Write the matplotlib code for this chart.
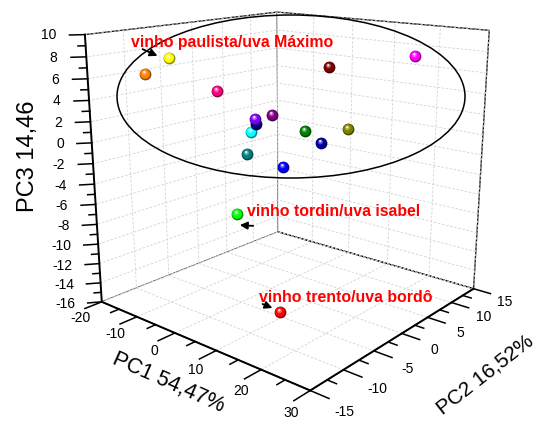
import numpy as np
import matplotlib
matplotlib.use('Agg')
import matplotlib.pyplot as plt
from matplotlib.path import Path
from matplotlib.patches import Ellipse, FancyArrowPatch
from mpl_toolkits.mplot3d import proj3d

plt.rcParams['font.family'] = ['Liberation Sans', 'DejaVu Sans']
plt.rcParams['axes.unicode_minus'] = False

# ---------------- data ----------------
names = ['yellow', 'orange', 'pink', 'violet', 'navy', 'purple', 'cyan', 'teal',
         'blue', 'green', 'royal', 'olive', 'wine', 'magenta', 'lime', 'red']
pc1 = [-8.2, -14.6, -5.2, -3.7, -3.5, 0.5, -4.8, 1.9,
       3.1, 8.3, 11.9, 11.6, 7.0, 20.0, -0.8, 16.8]
pc2 = [-10, -10, -5, 0, 0, 0, 0, -5,
       0, 0, 0, 5, 5, 10, -5, -10]
pc3 = [8.0, 6.2, 4.6, 1.3, 0.8, 2.0, -0.1, -0.9,
       -3.0, 1.0, 0.2, 0.7, 6.4, 7.6, -7.0, -12.9]
colors = ['#FFFF00', '#FF8000', '#FF0080', '#8000FF', '#000080', '#800080', '#00FFFF', '#008080',
          '#0000FF', '#008000', '#0000A0', '#808000', '#800000', '#FF00FF', '#00FF00', '#FF0000']

x_ticks = [-20, -10, 0, 10, 20, 30]
x_minor = [-15, -5, 5, 15, 25]
y_ticks = [-15, -10, -5, 0, 5, 10, 15]
y_minor = [-12.5, -7.5, -2.5, 2.5, 7.5, 12.5]
z_ticks = list(range(-16, 11, 2))
z_minor = list(range(-15, 10, 2))

x_label = 'PC1 54,47%'
y_label = 'PC2 16,52%'
z_label = 'PC3 14,46'

annotations = ['vinho paulista/uva Máximo', 'vinho tordin/uva isabel', 'vinho trento/uva bordô']

# ---------------- figure ----------------
W, H = 541, 421
fig = plt.figure(figsize=(W / 100, H / 100), dpi=100, facecolor='white')
ax = fig.add_axes([54.26 / W, 15.04 / H, 460.85 / W, 460.85 / H], projection='3d')
ax.patch.set_alpha(0)
ax.set_xlim(x_ticks[0], x_ticks[-1])
ax.set_ylim(y_ticks[0], y_ticks[-1])
ax.set_zlim(z_ticks[0], z_ticks[-1])
ax.view_init(elev=15.782, azim=-49.828)
ax.set_proj_type('persp', focal_length=0.3547)
ax.set_box_aspect((0.9966, 1, 0.9899))
ax.computed_zorder = False

ax.set_xticks(x_ticks)
ax.set_yticks(y_ticks)
ax.set_zticks(z_ticks)
for axis in (ax.xaxis, ax.yaxis, ax.zaxis):
    axis.set_pane_color((1, 1, 1, 1))
    axis.pane.set_edgecolor('black')
    axis.pane.set_linewidth(0.9)
    axis.line.set_linewidth(0)
    axis._axinfo['grid'].update({'color': '#d2d2d2', 'linewidth': 0.6, 'linestyle': (0, (3, 2))})
    axis._axinfo['tick']['linewidth'] = {True: 0.0, False: 0.0}
    axis.set_tick_params(labelbottom=False, labelleft=False, labeltop=False, labelright=False)
    axis.label.set_visible(False)
    axis.offsetText.set_visible(False)
    for t in axis.get_major_ticks():
        t.label1.set_visible(False)
        t.label2.set_visible(False)

x0, x1 = x_ticks[0], x_ticks[-1]
y0, y1 = y_ticks[0], y_ticks[-1]
z0, z1 = z_ticks[0], z_ticks[-1]
M = ax.get_proj()

def label_at(x, y, z, s, **kw):
    u, v, _ = proj3d.proj_transform(np.array([x], float), np.array([y], float), np.array([z], float), M)
    ax.text2D(float(u[0]), float(v[0]), s, transform=ax.transData, **kw)

# axis lines
axis_kw = dict(color='black', lw=1.4, zorder=2)
ax.plot([x0, x1], [y0, y0], [z0, z0], **axis_kw)
ax.plot([x1, x1], [y0, y1], [z0, z0], **axis_kw)
ax.plot([x0, x0], [y0, y0], [z0, z1], **axis_kw)

# tick marks (outward) and labels
tick_kw = dict(color='black', lw=1.1, zorder=2)
lab_kw = dict(fontsize=10, color='black', zorder=3)
for vals, f in ((z_ticks, 1.0), (z_minor, 0.5)):
    for z in vals:
        ax.plot([x0, x0 - 1.6 * f], [y0, y0 - 1.2 * f], [z, z], **tick_kw)
for z in z_ticks:
    label_at(x0 - 3.0, y0 - 2.25, z, str(z), ha='right', va='center', **lab_kw)

for vals, f in ((x_ticks, 1.0), (x_minor, 0.5)):
    for x in vals:
        ax.plot([x, x], [y0, y0 - 2.3 * f], [z0, z0], **tick_kw)
for x in x_ticks:
    label_at(x + 1.0, y0 - 3.4, z0 - 0.45, str(x), ha='center', va='center', **lab_kw)

for vals, f in ((y_ticks, 1.0), (y_minor, 0.5)):
    for y in vals:
        ax.plot([x1, x1 + 3.6 * f], [y, y], [z0, z0], **tick_kw)
for y in y_ticks:
    label_at(x1 + 7.0, y - 0.4, z0 - 0.3, str(y), ha='center', va='center', **lab_kw)

# ---------------- spheres ----------------
def ring_marker(cx, cy, r):
    c = Path.circle((cx, cy), r)
    verts = np.vstack([[[-1, -1], [1, 1]], c.vertices])
    codes = np.concatenate([[Path.MOVETO, Path.MOVETO], c.codes])
    return Path(verts, codes)

m_base = ring_marker(0, 0, 1.0)
m_body = ring_marker(-0.08, 0.1, 0.84)
m_light = ring_marker(-0.18, 0.28, 0.42)
m_spec = ring_marker(-0.2, 0.38, 0.2)

def shade(c, f):
    rgb = np.array(matplotlib.colors.to_rgb(c))
    return tuple(rgb * f)

def tint(c, f):
    rgb = np.array(matplotlib.colors.to_rgb(c))
    return tuple(rgb + (1 - rgb) * f)

_, _, depth = proj3d.proj_transform(np.array(pc1, float), np.array(pc2, float), np.array(pc3, float), M)
order = np.argsort(depth)[::-1]
S = 72
zo = 10
for i in order:
    c = colors[i]
    for mk, col, alpha in ((m_base, shade(c, 0.55), 1), (m_body, c, 1),
                           (m_light, tint(c, 0.35), 0.9), (m_spec, (1, 1, 1), 0.85)):
        ax.scatter([pc1[i]], [pc2[i]], [pc3[i]], s=S, marker=mk, c=[col], alpha=alpha,
                   linewidths=0, depthshade=False, zorder=zo)
        zo += 1

# ---------------- overlays ----------------
def fpt(x, y):
    return (x / W, 1 - y / H)

fig.add_artist(Ellipse(fpt(291, 96.5), 348 / W, 163 / H, transform=fig.transFigure,
                       fill=False, edgecolor='black', linewidth=1.1, zorder=5))

fig.text(*fpt(28, 156), z_label, rotation=90, fontsize=17, ha='center', va='center')
fig.text(*fpt(168, 383), x_label, rotation=-24, fontsize=15.5, ha='center', va='center')
fig.text(*fpt(485, 375), y_label, rotation=38, fontsize=15, ha='center', va='center')

ann_pos = [(131, 43), (247, 212), (259, 297)]
arrows = [((140, 48), (160, 57)), ((256, 226), (237, 225)), ((260, 303), (275, 309))]
for txt, (tx, ty) in zip(annotations, ann_pos):
    fig.text(*fpt(tx, ty), txt, color='#FF0000', fontsize=11.4, fontweight='bold',
             ha='left', va='center', zorder=6)
for (p0, p1) in arrows:
    fig.add_artist(FancyArrowPatch(fpt(*p0), fpt(*p1), transform=fig.transFigure,
                                   arrowstyle='-|>', mutation_scale=11,
                                   color='black', linewidth=1.3, zorder=6))

fig.savefig('out.png', dpi=100, facecolor='white')
